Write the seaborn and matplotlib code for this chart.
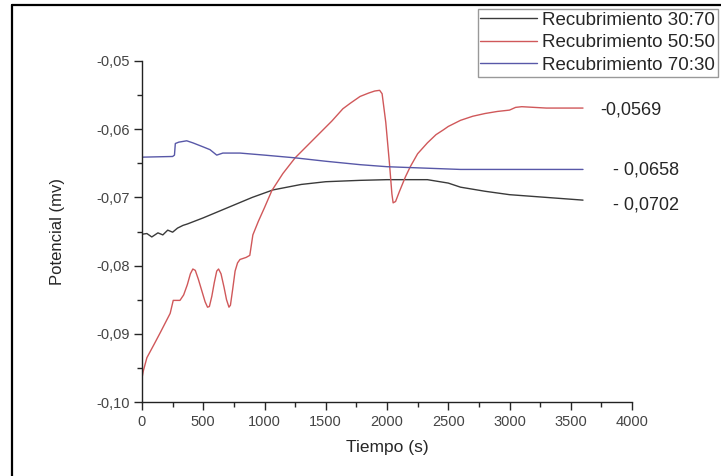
import pandas as pd
import matplotlib.pyplot as plt
import seaborn as sns
from matplotlib.lines import Line2D
from matplotlib.ticker import MultipleLocator, AutoMinorLocator, FuncFormatter

# Potencial vs tiempo para tres recubrimientos

t_3070 = [0, 40, 80, 130, 170, 210, 250, 290, 335, 370, 500, 700, 900, 1070, 1300,
          1500, 1780, 2000, 2330, 2500, 2600, 2800, 3000, 3300, 3600]
v_3070 = [-0.0754, -0.0753, -0.0758, -0.0752, -0.0755, -0.0748, -0.0751, -0.0745, -0.0741,
          -0.0739, -0.0730, -0.0715, -0.0700, -0.0689, -0.0681, -0.0677, -0.0675, -0.0674,
          -0.0674, -0.0679, -0.0685, -0.0691, -0.0696, -0.0700, -0.0704]

t_5050 = [0, 10, 40, 100, 150, 230, 255, 310, 340, 370, 395, 415, 435, 460, 490, 515,
          535, 550, 570, 590, 610, 625, 645, 670, 690, 710, 722, 740, 760, 780, 800, 850,
          880, 905, 950, 1000, 1060, 1150, 1250, 1400, 1550, 1640, 1700, 1780, 1850,
          1900, 1940, 1960, 1990, 2020, 2040, 2050, 2070, 2100, 2150, 2190, 2250, 2330,
          2400, 2460, 2500, 2600, 2700, 2800, 2900, 3000, 3050, 3100, 3300, 3600]
v_5050 = [-0.0965, -0.0955, -0.0935, -0.0915, -0.0898, -0.0870, -0.0851, -0.0851, -0.0843,
          -0.0828, -0.0812, -0.0805, -0.0807, -0.0820, -0.0838, -0.0853, -0.0861, -0.0860,
          -0.0845, -0.0825, -0.0808, -0.0805, -0.0812, -0.0832, -0.0850, -0.0861, -0.0858,
          -0.0835, -0.0808, -0.0796, -0.0791, -0.0788, -0.0785, -0.0755, -0.0735, -0.0715,
          -0.0690, -0.0665, -0.0642, -0.0615, -0.0588, -0.0570, -0.0562, -0.0552, -0.0547,
          -0.0544, -0.0543, -0.0548, -0.0590, -0.0650, -0.0695, -0.0708, -0.0706, -0.0692,
          -0.0670, -0.0655, -0.0636, -0.0620, -0.0608, -0.0601, -0.0596, -0.0587, -0.0581,
          -0.0577, -0.0574, -0.0572, -0.0568, -0.0567, -0.0569, -0.0569]

t_7030 = [0, 250, 265, 272, 300, 365, 415, 500, 555, 610, 660, 800, 1000, 1250, 1500,
          1780, 2000, 2300, 2600, 3000, 3600]
v_7030 = [-0.0641, -0.0640, -0.0638, -0.0621, -0.0619, -0.0617, -0.0620, -0.0626, -0.0630,
          -0.0638, -0.0635, -0.0635, -0.0638, -0.0642, -0.0647, -0.0652, -0.0655, -0.0657,
          -0.0659, -0.0659, -0.0659]

labels = ['Recubrimiento 30:70', 'Recubrimiento 50:50', 'Recubrimiento 70:30']
colors = ['#3a3a3a', '#d0585a', '#5858a8']
end_labels = ['- 0,0702', '-0,0569', '- 0,0658']

df = pd.concat([
    pd.DataFrame({'t': t_3070, 'v': v_3070, 'serie': labels[0]}),
    pd.DataFrame({'t': t_5050, 'v': v_5050, 'serie': labels[1]}),
    pd.DataFrame({'t': t_7030, 'v': v_7030, 'serie': labels[2]}),
])

sns.set_style('ticks')
plt.rcParams['font.family'] = ['Liberation Sans', 'DejaVu Sans']

fig = plt.figure(figsize=(7.21, 4.76), dpi=100)
ax = fig.add_axes([142 / 721, 1 - 402 / 476, 490 / 721, 341 / 476])

sns.lineplot(data=df, x='t', y='v', hue='serie', palette=dict(zip(labels, colors)),
             estimator=None, linewidth=1.0, ax=ax)

ax.set_xlim(0, 4000)
ax.set_ylim(-0.10, -0.05)
ax.xaxis.set_major_locator(MultipleLocator(500))
ax.yaxis.set_major_locator(MultipleLocator(0.01))
ax.xaxis.set_minor_locator(AutoMinorLocator(2))
ax.yaxis.set_minor_locator(AutoMinorLocator(2))
ax.yaxis.set_major_formatter(FuncFormatter(lambda v, _: f'{v:.2f}'.replace('.', ',')))
ax.tick_params(which='major', length=6, width=1, labelsize=10.5, labelcolor='#444444', pad=3)
ax.tick_params(which='minor', length=3.5, width=1)
sns.despine(ax=ax)
for s in ['left', 'bottom']:
    ax.spines[s].set_linewidth(1.0)
    ax.spines[s].set_color('#222222')

ax.set_xlabel('Tiempo (s)', fontsize=12.5, labelpad=8)
ax.set_ylabel('Potencial (mv)', fontsize=12, labelpad=22)

# valores finales anotados a la derecha
ax.text(3740, -0.0572, end_labels[1], fontsize=13, va='center', ha='left', clip_on=False)
ax.text(3845, -0.0660, end_labels[2], fontsize=13, va='center', ha='left', clip_on=False)
ax.text(3845, -0.0711, end_labels[0], fontsize=13, va='center', ha='left', clip_on=False)

handles = [Line2D([0], [0], color=c, lw=1.0) for c in colors]
ax.legend(handles, labels, loc='upper right', bbox_to_anchor=(718 / 721, 1 - 9 / 476),
          bbox_transform=fig.transFigure, fontsize=13.5, frameon=True, fancybox=False,
          edgecolor='#999999', framealpha=1, borderaxespad=0, borderpad=0.15,
          labelspacing=0.28, handlelength=3.0, handletextpad=0.3)

# marco exterior recortado
fig.add_artist(Line2D([12 / 721, 12 / 721], [0, 1 - 5 / 476], transform=fig.transFigure,
                      color='black', lw=1.6))
fig.add_artist(Line2D([12 / 721, 1], [1 - 5 / 476, 1 - 5 / 476], transform=fig.transFigure,
                      color='black', lw=1.6))

fig.savefig('out.png', dpi=100)
